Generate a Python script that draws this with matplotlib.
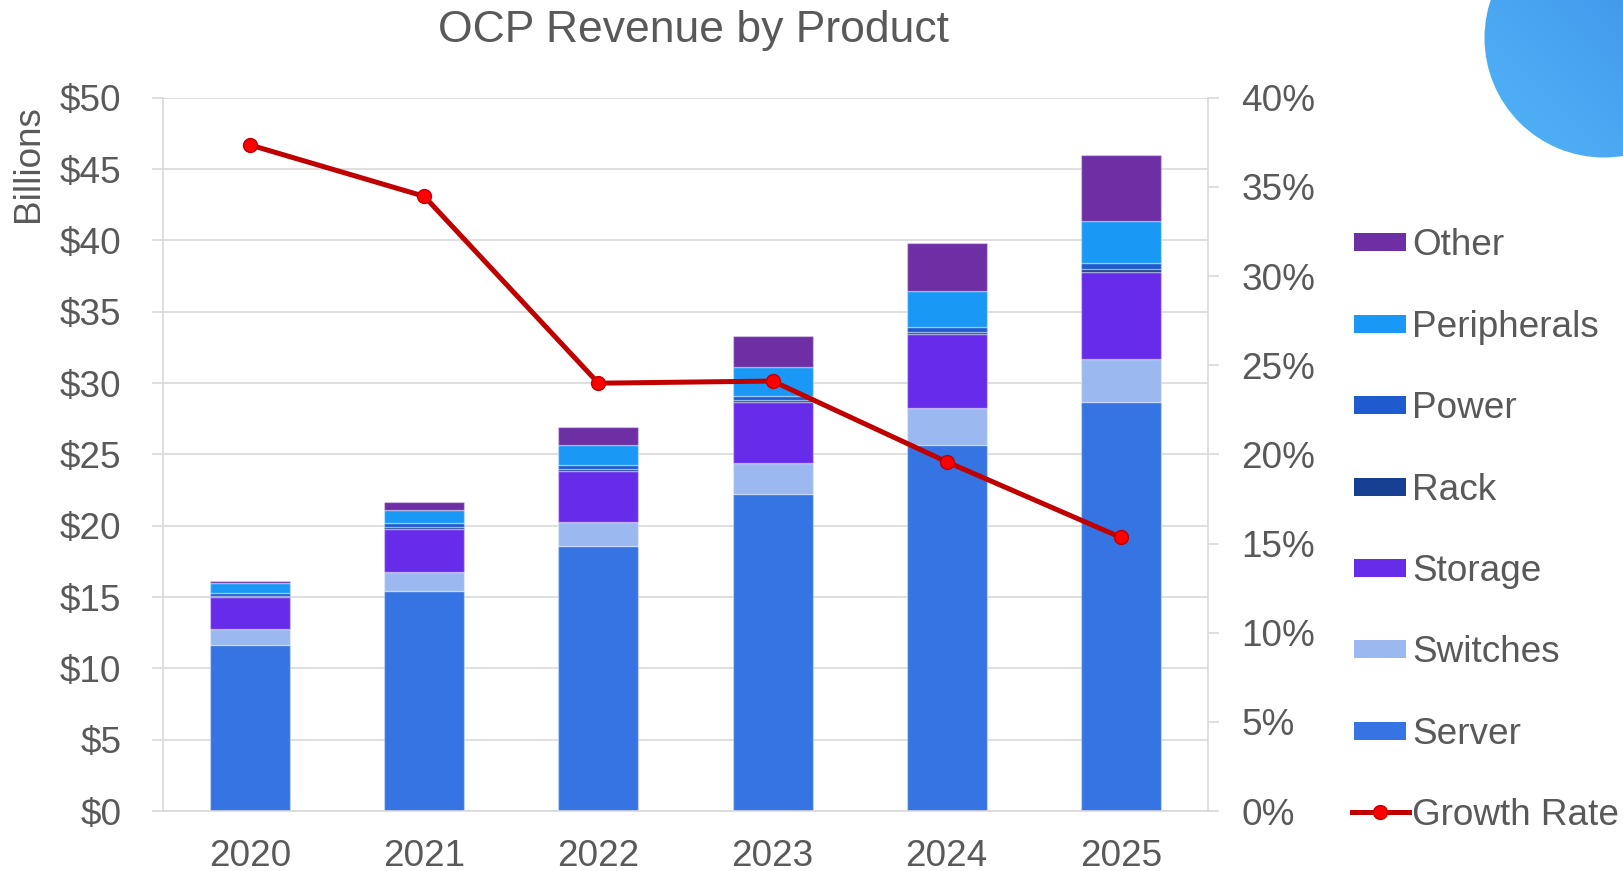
import numpy as np
import matplotlib
matplotlib.use("Agg")
from matplotlib import pyplot as plt
from matplotlib.patches import Rectangle, Circle
from matplotlib.lines import Line2D

plt.rcParams['font.family'] = ['Liberation Sans', 'DejaVu Sans']

## data ($ billions)
years = ["2020", "2021", "2022", "2023", "2024", "2025"]
server = [11.61, 15.44, 18.60, 22.19, 25.68, 28.65]
switches = [1.12, 1.31, 1.66, 2.18, 2.57, 3.02]
storage = [2.24, 3.04, 3.56, 4.30, 5.20, 6.13]
rack = [0.12, 0.14, 0.14, 0.12, 0.16, 0.16]
power = [0.17, 0.23, 0.28, 0.30, 0.33, 0.42]
peripherals = [0.70, 0.94, 1.43, 2.04, 2.48, 2.97]
other = [0.16, 0.58, 1.24, 2.18, 3.42, 4.61]
growth = [37.35, 34.47, 23.99, 24.11, 19.58, 15.34]  # %

left_ticks = [0, 5, 10, 15, 20, 25, 30, 35, 40, 45, 50]
right_ticks = [0, 5, 10, 15, 20, 25, 30, 35, 40]

series = [("Server", server, "#3574E2"),
          ("Switches", switches, "#9BB9F0"),
          ("Storage", storage, "#672CE9"),
          ("Rack", rack, "#163F92"),
          ("Power", power, "#1E5BCF"),
          ("Peripherals", peripherals, "#1998F5"),
          ("Other", other, "#6E2EA4")]

W, H = 1624, 871
txt = "#595959"
grid = "#D9D9D9"
fs = 26.6

fig = plt.figure(figsize=(W / 100, H / 100), dpi=100)
ax = fig.add_axes([163 / W, 1 - 811 / H, (1208 - 163) / W, (811 - 97.7) / H])

x = np.arange(len(years))
bottom = np.zeros(len(years))
for name, vals, col in series:
    ax.bar(x, vals, 0.46, bottom=bottom, color=col,
           edgecolor=(1, 1, 1, 0.35), linewidth=1, zorder=2)
    bottom = bottom + np.array(vals)

ax.set_xlim(-0.5, 5.5)
ax.set_ylim(0, 50)
ax.set_yticks(left_ticks)
ax.set_yticklabels(["$%d" % v for v in left_ticks])
ax.set_xticks(x)
ax.set_xticklabels(years)
ax.yaxis.grid(True, color=grid, linewidth=1.2)
ax.set_axisbelow(True)
for s in ["top", "right"]:
    ax.spines[s].set_visible(False)
for s in ["left", "bottom"]:
    ax.spines[s].set_color(grid)
    ax.spines[s].set_linewidth(1.2)
ax.tick_params(axis="y", length=8, width=1.2, color=grid, pad=22,
               labelsize=fs, labelcolor=txt)
ax.tick_params(axis="x", length=0, pad=20, labelsize=fs, labelcolor=txt)

ax2 = ax.twinx()
ax2.plot(x, growth, color="#C00000", linewidth=3.6, marker="o", markersize=10,
         markerfacecolor="#FF0000", markeredgecolor="#C00000", markeredgewidth=1,
         zorder=5)
ax2.set_ylim(0, 40)
ax2.set_yticks(right_ticks)
ax2.set_yticklabels(["%d%%" % v for v in right_ticks])
for s in ["top", "left", "bottom"]:
    ax2.spines[s].set_visible(False)
ax2.spines["right"].set_color(grid)
ax2.spines["right"].set_linewidth(1.2)
ax2.tick_params(axis="y", length=8, width=1.2, color=grid, pad=16,
                labelsize=fs, labelcolor=txt)

## overlay in pixel coords for title, label, legend, decoration
ov = fig.add_axes([0, 0, 1, 1], zorder=10)
ov.set_xlim(0, W)
ov.set_ylim(H, 0)
ov.axis("off")

ov.text(694, 42, "OCP Revenue by Product", ha="center", va="baseline",
        fontsize=32, color=txt)
ov.text(29, 164, "Billions", ha="center", va="center", rotation=90,
        fontsize=fs, color=txt)

# decorative circle, top right
n = 200
gx, gy = np.meshgrid(np.linspace(0, 1, n), np.linspace(0, 1, n))
t = (gx + (1 - gy)) / 2
c1 = np.array([0x52, 0xB5, 0xF8]) / 255
c2 = np.array([0x3A, 0x8A, 0xE6]) / 255
img = c1[None, None, :] * (1 - t[..., None]) + c2[None, None, :] * t[..., None]
circ = Circle((1604, 38), 119.5, transform=ov.transData, facecolor="none",
              edgecolor="none")
ov.add_patch(circ)
im = ov.imshow(img, extent=(1484, 1724, 158, -82), aspect="auto", zorder=1)
im.set_clip_path(circ)
ov.set_xlim(0, W)
ov.set_ylim(H, 0)

# legend
legend_items = ["Other", "Peripherals", "Power", "Rack", "Storage",
                "Switches", "Server", "Growth Rate"]
colors = dict((n_, c) for n_, v, c in series)
for i, lab in enumerate(legend_items):
    yc = 242.4 + 81.4 * i
    if lab == "Growth Rate":
        ov.add_line(Line2D([1352, 1409], [yc, yc], color="#C00000", linewidth=3.6))
        ov.plot([1380], [yc], marker="o", markersize=10, color="#FF0000",
                markeredgecolor="#C00000", markeredgewidth=1)
    else:
        ov.add_patch(Rectangle((1354, yc - 9), 52, 18, facecolor=colors[lab],
                               edgecolor="none"))
    ov.text(1412, yc + 13, lab, ha="left", va="baseline", fontsize=fs, color=txt)

fig.savefig("out.png", dpi=100)
